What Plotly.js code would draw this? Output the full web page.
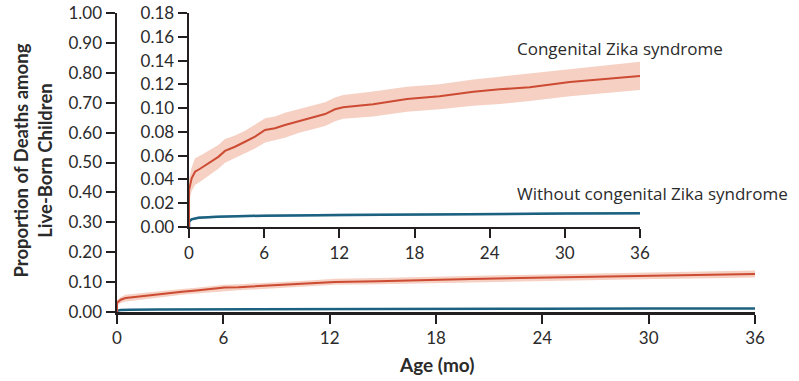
<!DOCTYPE html>
<html><head><meta charset="utf-8">
<script src="https://cdn.plot.ly/plotly-3.0.1.min.js"></script>
<style>html,body{margin:0;padding:0;background:#fff;}#chart{width:799px;height:381px;}</style>
</head><body><div id="chart"></div>
<script>
// Months since birth
const czsMonths = [0, 0, 0.21, 0.48, 0.88, 1.54, 2.34, 2.87, 3.67, 4.47, 5.27, 6.07, 6.86, 7.66, 8.73, 9.79, 10.86, 11.65, 12.3, 14.7, 17.4, 20.0, 22.7, 24.8, 27.2, 30.4, 33.6, 36];
const czsDeaths = [0, 0.031, 0.041, 0.0465, 0.049, 0.0535, 0.059, 0.064, 0.0675, 0.0717, 0.076, 0.0816, 0.083, 0.0858, 0.089, 0.092, 0.095, 0.099, 0.1007, 0.1032, 0.1077, 0.110, 0.1138, 0.1158, 0.1175, 0.122, 0.125, 0.127];
const czsUpper = [0, 0.040, 0.050, 0.0578, 0.060, 0.064, 0.069, 0.074, 0.077, 0.081, 0.086, 0.0914, 0.093, 0.096, 0.099, 0.102, 0.105, 0.109, 0.111, 0.114, 0.118, 0.120, 0.124, 0.1264, 0.129, 0.133, 0.136, 0.139];
const czsLower = [0, 0.022, 0.030, 0.0353, 0.038, 0.043, 0.049, 0.054, 0.058, 0.062, 0.066, 0.071, 0.073, 0.075, 0.079, 0.082, 0.085, 0.089, 0.091, 0.093, 0.097, 0.099, 0.102, 0.1035, 0.106, 0.110, 0.113, 0.1152];

const noMonths = [0, 0, 0.2, 0.75, 2.3, 6, 12.2, 18, 24, 30, 36];
const noDeaths = [0, 0.0045, 0.0065, 0.0078, 0.0087, 0.0095, 0.0101, 0.0106, 0.0110, 0.0113, 0.0115];
const noUpper = [0, 0.0055, 0.0075, 0.0088, 0.0097, 0.0105, 0.0111, 0.0116, 0.0120, 0.0123, 0.0125];
const noLower = [0, 0.0035, 0.0055, 0.0068, 0.0077, 0.0085, 0.0091, 0.0096, 0.0100, 0.0103, 0.0105];

const xTicks = [0, 6, 12, 18, 24, 30, 36];
const seriesNames = ['Congenital Zika syndrome', 'Without congenital Zika syndrome'];

const RED = '#cc4b32', REDBAND = 'rgba(236,170,145,0.55)';
const BLUE = '#1c6180', BLUEBAND = 'rgba(120,170,195,0.6)';
const AX = '#231f20';
const tickFont = {family: 'Lato, "Open Sans", sans-serif', size: 17, color: '#2b2b2b'};

function bandTraces(x, lo, hi, fill, xa, ya) {
  return [
    {x: x, y: lo, xaxis: xa, yaxis: ya, mode: 'lines', line: {width: 0, color: fill}, hoverinfo: 'skip', showlegend: false},
    {x: x, y: hi, xaxis: xa, yaxis: ya, mode: 'lines', line: {width: 0, color: fill}, fill: 'tonexty', fillcolor: fill, hoverinfo: 'skip', showlegend: false}
  ];
}
function lineTrace(x, y, color, w, xa, ya, name) {
  return {x: x, y: y, xaxis: xa, yaxis: ya, mode: 'lines', name: name, line: {color: color, width: w}, showlegend: false};
}

const data = [].concat(
  bandTraces(noMonths, noLower, noUpper, BLUEBAND, 'x', 'y'),
  [lineTrace(noMonths, noDeaths, BLUE, 2.5, 'x', 'y', seriesNames[1])],
  bandTraces(czsMonths, czsLower, czsUpper, REDBAND, 'x', 'y'),
  [lineTrace(czsMonths, czsDeaths, RED, 2, 'x', 'y', seriesNames[0])],
  bandTraces(noMonths, noLower, noUpper, BLUEBAND, 'x2', 'y2'),
  [lineTrace(noMonths, noDeaths, BLUE, 2.5, 'x2', 'y2', seriesNames[1])],
  bandTraces(czsMonths, czsLower, czsUpper, REDBAND, 'x2', 'y2'),
  [lineTrace(czsMonths, czsDeaths, RED, 2, 'x2', 'y2', seriesNames[0])]
);

const axisCommon = {showgrid: false, zeroline: false, showline: true, linecolor: AX, linewidth: 2.5,
  ticks: 'outside', ticklen: 9, tickwidth: 2, tickcolor: AX, tickfont: tickFont, fixedrange: true};

const layout = {
  width: 799, height: 381,
  margin: {l: 117, r: 44, t: 13, b: 69},
  paper_bgcolor: '#fff', plot_bgcolor: 'rgba(0,0,0,0)',
  showlegend: false,
  xaxis: Object.assign({}, axisCommon, {domain: [0, 1], range: [0, 36], tickvals: xTicks, ticktext: xTicks.map(String), anchor: 'y'}),
  yaxis: Object.assign({}, axisCommon, {domain: [0, 1], range: [0, 1.0], dtick: 0.1, tick0: 0, tickformat: '.2f', anchor: 'x'}),
  xaxis2: Object.assign({}, axisCommon, {domain: [0.1129, 0.8197], range: [0, 36], tickvals: xTicks, ticktext: xTicks.map(String), anchor: 'y2'}),
  yaxis2: Object.assign({}, axisCommon, {domain: [0.2843, 1.0], range: [0, 0.18], dtick: 0.02, tick0: 0, tickformat: '.2f', anchor: 'x2'}),
  annotations: [
    {xref: 'paper', yref: 'paper', x: -0.131, y: 0.508, xanchor: 'center', yanchor: 'middle', textangle: -90, showarrow: false,
     text: '<b>Proportion of Deaths among<br>Live-Born Children</b>', font: {family: 'Lato, "Open Sans", sans-serif', size: 18.5, color: '#2b2b2b'}},
    {xref: 'paper', yref: 'paper', x: 0.5, y: -0.177, xanchor: 'center', yanchor: 'middle', showarrow: false,
     text: '<b>Age (mo)</b>', font: {family: 'Lato, "Open Sans", sans-serif', size: 19, color: '#2b2b2b'}},
    {xref: 'paper', yref: 'paper', x: (515 - 117) / 638, y: (312 - 48) / 299, xanchor: 'left', yanchor: 'middle', showarrow: false,
     text: seriesNames[0], font: {family: '"Open Sans", sans-serif', size: 17, color: '#2b2b2b'}},
    {xref: 'paper', yref: 'paper', x: (515 - 117) / 638, y: (312 - 193) / 299, xanchor: 'left', yanchor: 'middle', showarrow: false,
     text: seriesNames[1], font: {family: '"Open Sans", sans-serif', size: 17, color: '#2b2b2b'}}
  ]
};

Plotly.newPlot('chart', data, layout, {displayModeBar: false, staticPlot: true});
</script>
</body></html>
